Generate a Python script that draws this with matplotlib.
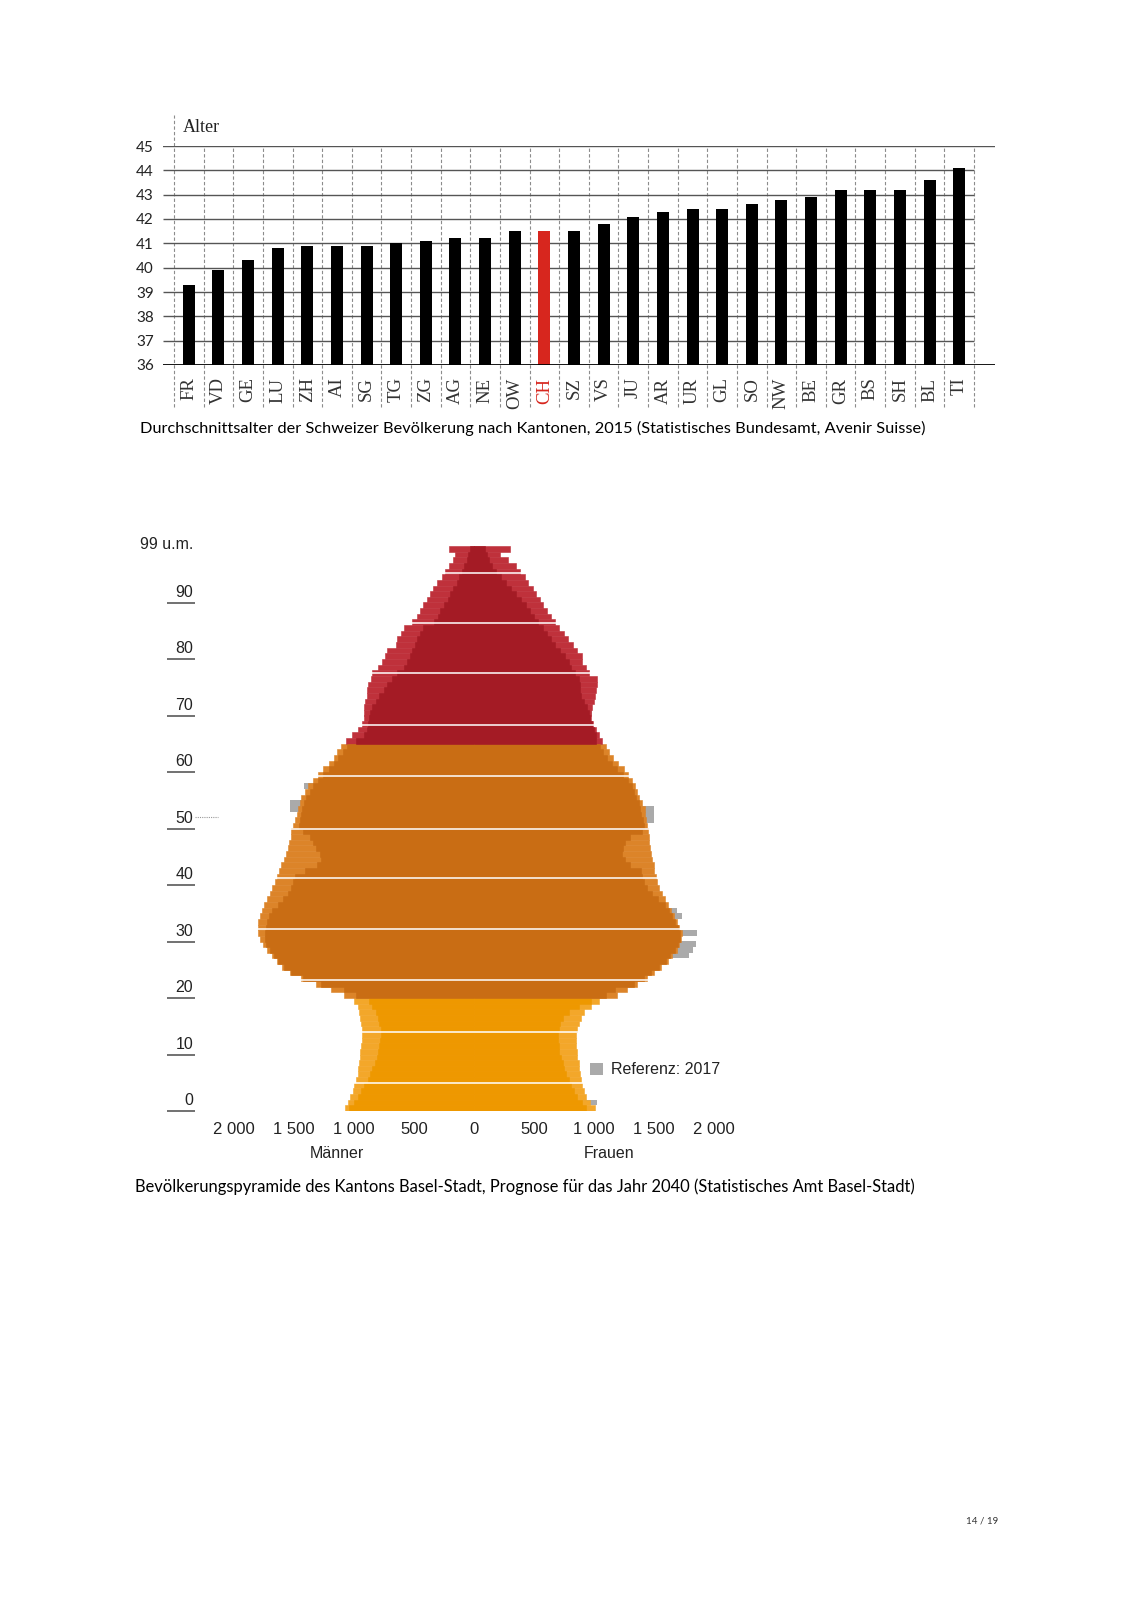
import matplotlib
matplotlib.use("Agg")
import matplotlib.pyplot as plt
from matplotlib.patches import Patch
from matplotlib.transforms import blended_transform_factory

# --- Durchschnittsalter nach Kantonen 2015 ---
kantone = ["FR", "VD", "GE", "LU", "ZH", "AI", "SG", "TG", "ZG", "AG", "NE", "OW", "CH", "SZ",
           "VS", "JU", "AR", "UR", "GL", "SO", "NW", "BE", "GR", "BS", "SH", "BL", "TI"]
alter = [39.3, 39.9, 40.3, 40.8, 40.9, 40.9, 40.9, 41.0, 41.1, 41.2, 41.2, 41.5, 41.5, 41.5,
         41.8, 42.1, 42.3, 42.4, 42.4, 42.6, 42.8, 42.9, 43.2, 43.2, 43.2, 43.6, 44.1]
alter_ticks = list(range(36, 46))

# --- Bevölkerungspyramide Basel-Stadt 2040 (Alter 0 .. 99 u.m.) ---
ages = list(range(100))
maenner_aussen = [1074, 1052, 1030, 1011, 997, 981, 970, 964, 959, 953,
                  948, 942, 937, 937, 937, 942, 948, 956, 970, 997,
                  1080, 1190, 1314, 1444, 1535, 1598, 1645, 1686, 1725, 1758,
                  1782, 1796, 1802, 1796, 1785, 1769, 1747, 1725, 1700, 1681,
                  1659, 1642, 1625, 1609, 1587, 1570, 1554, 1540, 1529, 1521,
                  1507, 1493, 1479, 1466, 1452, 1438, 1411, 1383, 1342, 1300,
                  1259, 1212, 1168, 1141, 1108, 1066, 1019, 964, 937, 920,
                  920, 915, 909, 893, 893, 882, 860, 846, 804, 763,
                  744, 722, 653, 639, 606, 584, 515, 479, 452, 424,
                  391, 369, 342, 309, 267, 240, 212, 179, 157, 212]
maenner_innen = [1039, 1003, 970, 942, 915, 887, 865, 846, 827, 810,
                 799, 791, 782, 777, 777, 791, 804, 818, 846, 873,
                 984, 1080, 1273, 1424, 1521, 1587, 1631, 1670, 1703, 1730,
                 1741, 1741, 1736, 1725, 1708, 1681, 1636, 1590, 1548, 1521,
                 1507, 1493, 1411, 1306, 1278, 1287, 1314, 1342, 1369, 1424,
                 1460, 1452, 1444, 1433, 1416, 1397, 1369, 1342, 1300, 1259,
                 1212, 1168, 1130, 1094, 1058, 984, 915, 893, 887, 873,
                 865, 846, 818, 791, 749, 722, 680, 639, 584, 556,
                 534, 515, 488, 474, 446, 424, 336, 303, 281, 248,
                 220, 198, 171, 143, 121, 102, 83, 61, 47, 33]
frauen_aussen = [1008, 964, 937, 917, 904, 893, 884, 876, 871, 862,
                 857, 854, 854, 854, 857, 871, 890, 917, 973, 1041,
                 1193, 1276, 1358, 1441, 1496, 1559, 1614, 1653, 1689, 1708,
                 1725, 1730, 1708, 1689, 1670, 1642, 1620, 1592, 1565, 1543,
                 1526, 1515, 1504, 1496, 1482, 1471, 1468, 1460, 1455, 1449,
                 1441, 1433, 1427, 1422, 1400, 1378, 1358, 1345, 1317, 1284,
                 1248, 1201, 1157, 1124, 1102, 1069, 1041, 1019, 992, 973,
                 973, 981, 1000, 1008, 1019, 1022, 1022, 959, 931, 904,
                 898, 862, 821, 785, 752, 711, 678, 642, 606, 579,
                 551, 518, 490, 449, 422, 380, 353, 284, 220, 298]
frauen_innen = [931, 898, 862, 835, 807, 788, 766, 752, 738, 725,
                711, 705, 697, 697, 705, 716, 738, 794, 876, 973,
                1097, 1179, 1331, 1413, 1477, 1543, 1598, 1637, 1675, 1697,
                1714, 1719, 1697, 1675, 1653, 1626, 1592, 1537, 1482, 1441,
                1413, 1400, 1394, 1303, 1256, 1234, 1240, 1262, 1303, 1400,
                1413, 1405, 1394, 1386, 1372, 1350, 1331, 1317, 1284, 1240,
                1193, 1146, 1110, 1075, 1047, 1019, 1014, 1000, 981, 964,
                959, 945, 918, 890, 882, 882, 876, 843, 807, 788,
                760, 716, 678, 642, 606, 573, 532, 496, 463, 430,
                394, 353, 311, 270, 229, 187, 154, 127, 105, 91]
# Referenz 2017 (nur sichtbar, wo grösser als Prognose)
ref_ages_m = [53, 54, 57]
ref_m = [1534, 1534, 1416]
ref_ages_w = [1, 27, 28, 29, 31, 34, 35, 51, 52, 53, 70]
ref_w = [1028, 1791, 1827, 1846, 1862, 1730, 1689, 1496, 1496, 1496, 981]
weisse_linien = [5.0, 14.0, 23.1, 32.2, 41.2, 50.0, 59.3, 68.4, 77.5, 86.4, 95.3]
x_ticks = [-2000, -1500, -1000, -500, 0, 500, 1000, 1500, 2000]
x_labels = ["2 000", "1 500", "1 000", "500", "0", "500", "1 000", "1 500", "2 000"]
y_marks = [0, 10, 20, 30, 40, 50, 60, 70, 80, 90]

SANS = "Lato"
SERIF = "Liberation Serif"
ARIAL = "Liberation Sans"

fig = plt.figure(figsize=(11.32, 16), dpi=100)

# ---------------- oberes Diagramm ----------------
ax = fig.add_axes([163 / 1132, 1 - 365 / 1600, 832 / 1132, 219 / 1600])
ax.set_xlim(-0.5 - 11 / 29.63, 26.5 + 21 / 29.63)
ax.set_ylim(36, 45)
farben = ["#d7261e" if k == "CH" else "black" for k in kantone]
ax.bar(range(len(kantone)), alter, width=0.405, color=farben, zorder=3)

ax.hlines(alter_ticks[1:-1], ax.get_xlim()[0], 26.5, color="#555555", lw=1.0, zorder=2)
ax.axhline(45, color="#555555", lw=1.0, zorder=2)
ax.axhline(36, color="black", lw=2.0, zorder=4)
for k in range(len(kantone) + 1):
    top = 1 + 31 / 219 if k == 0 else 1
    ax.axvline(-0.5 + k, ymin=-42 / 219, ymax=top, color="#8c8c8c", lw=0.8,
               linestyle=(0, (3, 2)), clip_on=False, zorder=1)

for s in ax.spines.values():
    s.set_visible(False)
ax.set_yticks(alter_ticks)
ax.set_yticklabels([str(t) for t in alter_ticks], fontfamily=SANS, fontsize=11, color="#222222")
ax.set_xticks(range(len(kantone)))
ax.set_xticklabels(kantone, rotation=90, fontfamily=SERIF, fontsize=13.5, color="#333333")
for lbl, k in zip(ax.get_xticklabels(), kantone):
    if k == "CH":
        lbl.set_color("#d7261e")
ax.tick_params(axis="y", length=0, pad=6.5)
ax.tick_params(axis="x", length=0, pad=9)

fig.text(183 / 1132, 1 - 127 / 1600, "Alter", fontfamily=SERIF, fontsize=13,
         va="center", ha="left", color="#222222")
fig.text(140 / 1132, 1 - 428 / 1600,
         "Durchschnittsalter der Schweizer Bevölkerung nach Kantonen, 2015 "
         "(Statistisches Bundesamt, Avenir Suisse)",
         fontfamily=SANS, fontsize=11.75, va="center", ha="left", color="black")

# ---------------- Bevölkerungspyramide ----------------
ax2 = fig.add_axes([222 / 1132, 1 - 1111 / 1600, 504 / 1132, 565 / 1600])
ax2.set_xlim(-2100, 2100)
ax2.set_ylim(0, 100)


def gruppenfarbe(a, hell):
    if a >= 65:
        return "#bf313b" if hell else "#a41b25"
    if a >= 20:
        return "#dc8429" if hell else "#c96d14"
    return "#f3a72a" if hell else "#ee9800"


hell = [gruppenfarbe(a, True) for a in ages]
dunkel = [gruppenfarbe(a, False) for a in ages]

grau = "#aaaaaa"
ax2.barh(ref_ages_m, [-v for v in ref_m], height=1, align="edge", color=grau, lw=0, zorder=1)
ax2.barh(ref_ages_w, ref_w, height=1, align="edge", color=grau, lw=0, zorder=1)
ax2.barh(ages, [-v for v in maenner_aussen], height=1, align="edge", color=hell,
         edgecolor=hell, lw=0.4, zorder=2)
ax2.barh(ages, frauen_aussen, height=1, align="edge", color=hell,
         edgecolor=hell, lw=0.4, zorder=2)
ax2.barh(ages, [-v for v in maenner_innen], height=1, align="edge", color=dunkel,
         edgecolor=dunkel, lw=0.4, zorder=3)
ax2.barh(ages, frauen_innen, height=1, align="edge", color=dunkel,
         edgecolor=dunkel, lw=0.4, zorder=3)
ax2.hlines(weisse_linien, -2100, 2100, color="white", alpha=0.85, lw=1.3, zorder=4)

for s in ax2.spines.values():
    s.set_visible(False)
ax2.set_yticks([])
ax2.set_xticks(x_ticks)
ax2.set_xticklabels(x_labels, fontfamily=ARIAL, fontsize=12, color="#222222")
ax2.tick_params(axis="x", length=0, pad=8)

tr = blended_transform_factory(ax2.transAxes, ax2.transData)
for a in y_marks:
    ax2.text(-0.0575, a + 1.8, str(a), transform=tr, ha="right", va="center",
             fontfamily=ARIAL, fontsize=11.5, color="#222222")
    ax2.plot([-0.1091, -0.0536], [a, a], transform=tr, color="#666666", lw=1.3,
             clip_on=False, solid_capstyle="butt")
ax2.text(-0.0575, 100.2, "99 u.m.", transform=tr, ha="right", va="center",
         fontfamily=ARIAL, fontsize=11.5, color="#222222")
ax2.plot([-0.0536, -0.0079], [52.0, 52.0], transform=tr, color="#999999", lw=0.8,
         linestyle=(0, (1, 1)), clip_on=False)

trx = blended_transform_factory(ax2.transData, ax2.transAxes)
ax2.text(-1140, -0.075, "Männer", transform=trx, ha="center", va="center",
         fontfamily=ARIAL, fontsize=11.5, color="#222222")
ax2.text(1125, -0.075, "Frauen", transform=trx, ha="center", va="center",
         fontfamily=ARIAL, fontsize=11.5, color="#222222")

leg = ax2.legend(handles=[Patch(facecolor=grau, edgecolor="none")], labels=["Referenz: 2017"],
                 loc="center left", bbox_to_anchor=(0.730, 0.0726), frameon=False,
                 handlelength=0.85, handleheight=0.85, handletextpad=0.45,
                 borderpad=0, borderaxespad=0, prop={"family": ARIAL, "size": 11.5})
for t in leg.get_texts():
    t.set_color("#222222")

fig.text(135 / 1132, 1 - 1187 / 1600,
         "Bevölkerungspyramide des Kantons Basel-Stadt, Prognose für das Jahr 2040 "
         "(Statistisches Amt Basel-Stadt)",
         fontfamily=SANS, fontsize=11.9, va="center", ha="left", color="black")

fig.text(998 / 1132, 1 - 1521 / 1600, "14 / 19", fontfamily=SANS, fontsize=7,
         ha="right", va="center", color="#333333")

fig.savefig("out.png", dpi=100, facecolor="white")
